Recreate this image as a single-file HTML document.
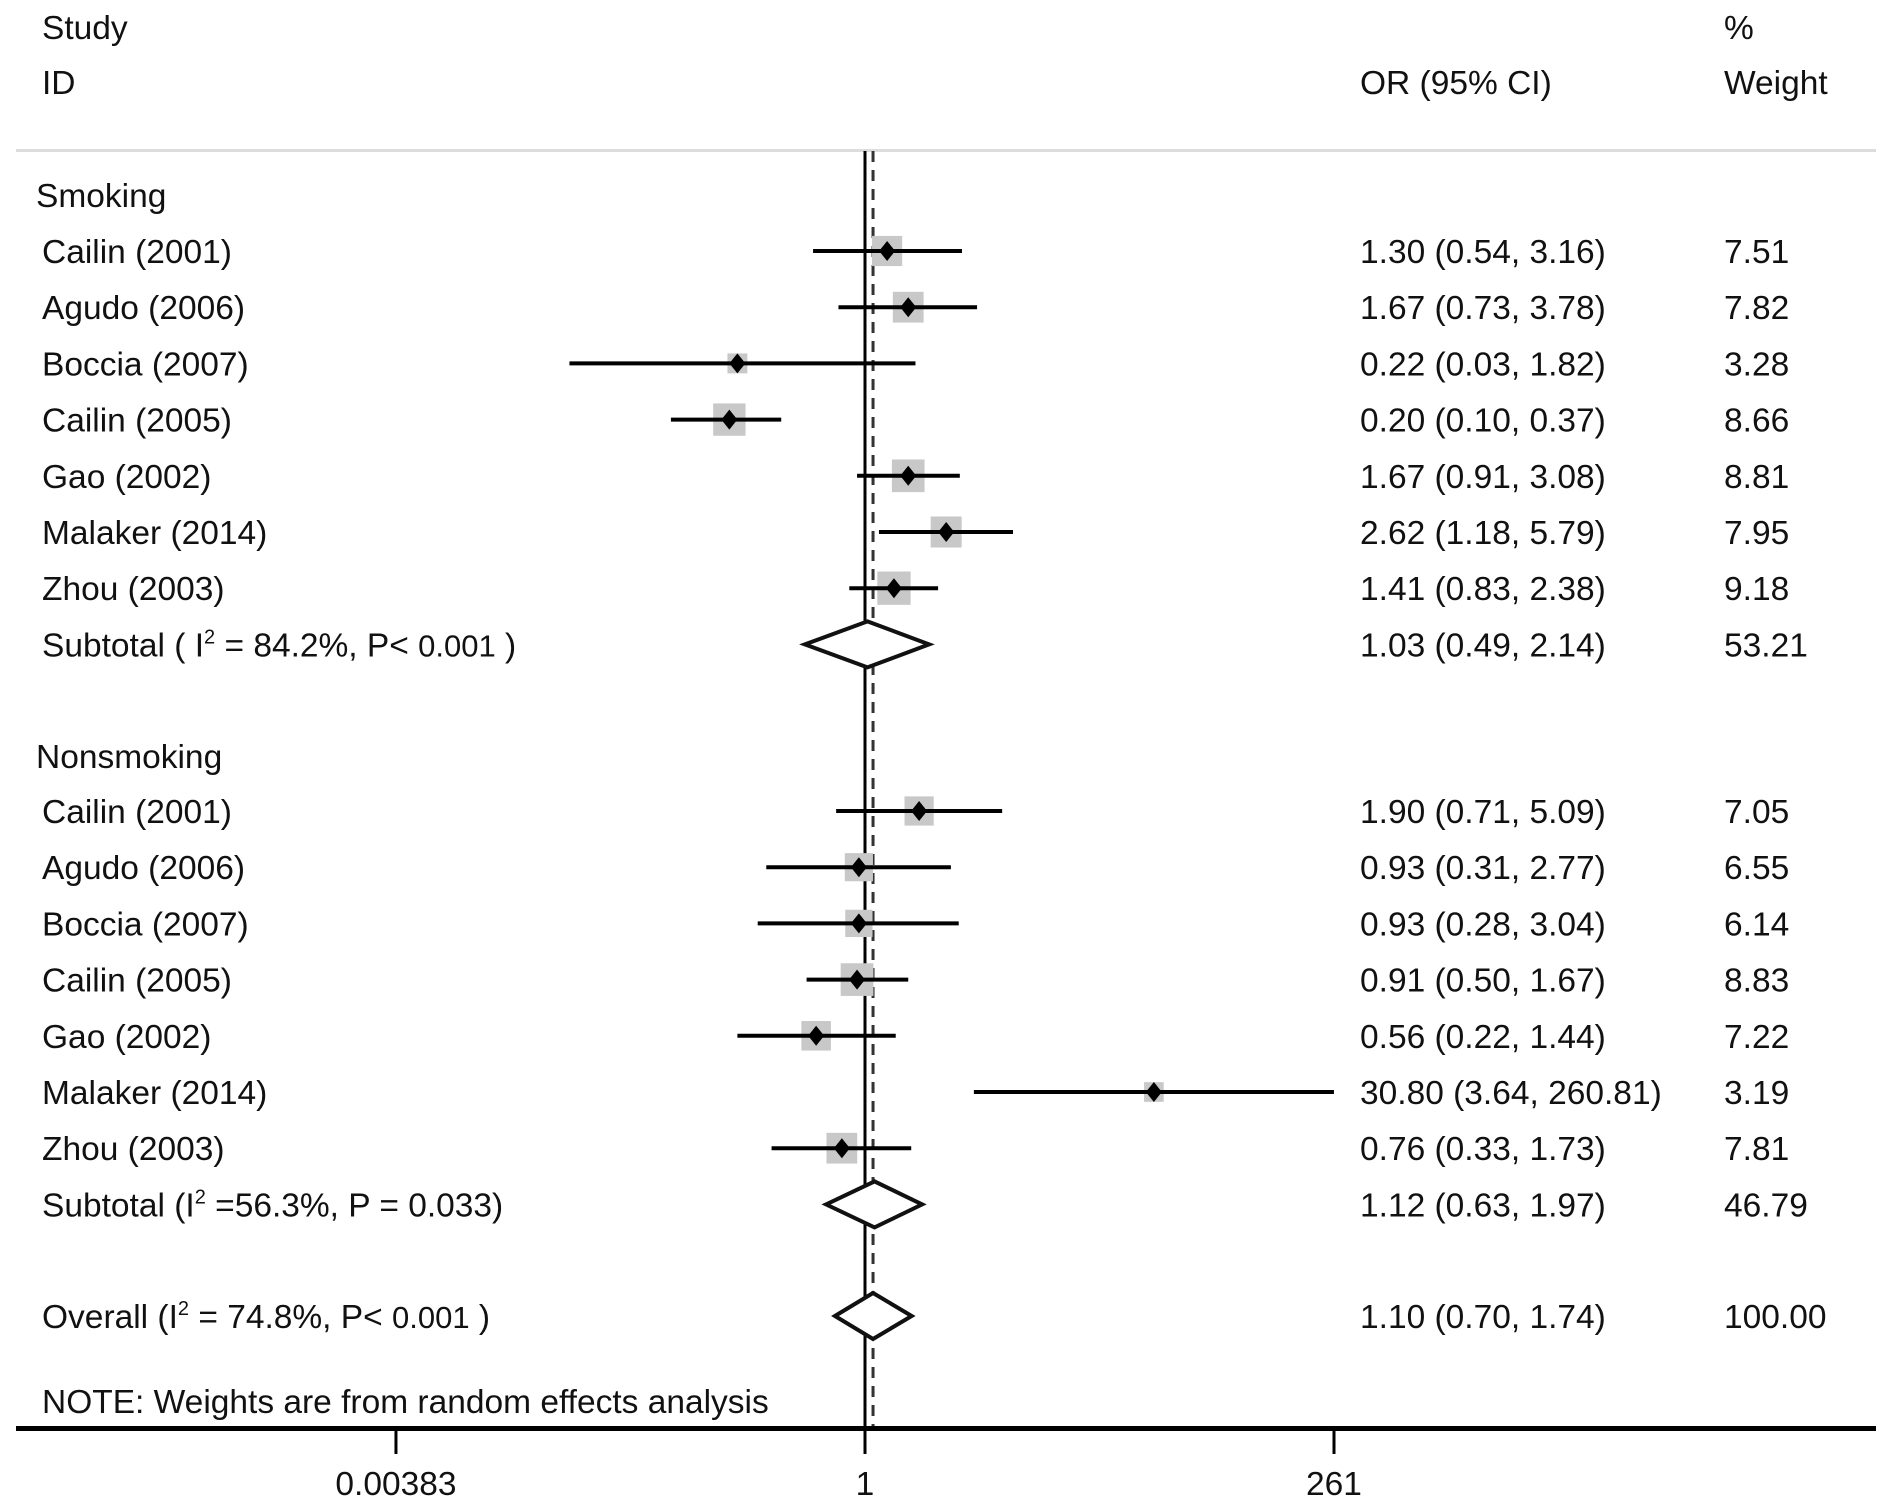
<!DOCTYPE html>
<html><head><meta charset="utf-8"><style>
html,body{margin:0;padding:0;background:#fff;}
svg{display:block;}
text{font-family:"Liberation Sans",Arial,sans-serif;font-size:33.5px;fill:#111;}
</style></head><body>
<svg id="chart" width="1890" height="1508" viewBox="0 0 1890 1508" xmlns="http://www.w3.org/2000/svg">
<g id="static">
<text x="42" y="39">Study</text>
<text x="42" y="94">ID</text>
<text x="1360" y="94">OR (95% CI)</text>
<text x="1724" y="39">%</text>
<text x="1724" y="94">Weight</text>
<rect x="16" y="149" width="1860" height="3" fill="#dcdcdc"/>
<text x="36" y="207">Smoking</text>
<text x="36" y="768">Nonsmoking</text>
<text x="42" y="1413">NOTE: Weights are from random effects analysis</text>
</g>
<g id="marks"></g>
</svg>
<script>
const studies = ["Cailin (2001)","Agudo (2006)","Boccia (2007)","Cailin (2005)","Gao (2002)","Malaker (2014)","Zhou (2003)"];
const smokOR = [1.30,1.67,0.22,0.20,1.67,2.62,1.41];
const smokLo = [0.54,0.73,0.03,0.10,0.91,1.18,0.83];
const smokHi = [3.16,3.78,1.82,0.37,3.08,5.79,2.38];
const smokW  = [7.51,7.82,3.28,8.66,8.81,7.95,9.18];
const nonOR = [1.90,0.93,0.93,0.91,0.56,30.80,0.76];
const nonLo = [0.71,0.31,0.28,0.50,0.22,3.64,0.33];
const nonHi = [5.09,2.77,3.04,1.67,1.44,260.81,1.73];
const nonW  = [7.05,6.55,6.14,8.83,7.22,3.19,7.81];
const subOR = [1.03,1.12];
const subLo = [0.49,0.63];
const subHi = [2.14,1.97];
const subW  = [53.21,46.79];
const overallOR = 1.10, overallLo = 0.70, overallHi = 1.74, overallW = 100.00;
const tickVals = [0.00383, 1, 261];
const tickLabels = ["0.00383","1","261"];

const NS="http://www.w3.org/2000/svg";
const g=document.getElementById('marks');
const X0=865, PX=469/Math.log(261);
function xs(v){return X0+Math.log(v)*PX;}
function mk(tag,attrs){const e=document.createElementNS(NS,tag);for(const k in attrs)e.setAttribute(k,attrs[k]);g.appendChild(e);return e;}
function fmt(v){return v.toFixed(2);}
const TOP=151, AXY=1428;
let l=mk('line',{x1:X0,x2:X0,y1:TOP,y2:AXY,stroke:'#000','stroke-width':3});


l=mk('line',{x1:xs(overallOR),x2:xs(overallOR),y1:TOP,y2:AXY,stroke:'#333','stroke-width':3,'stroke-dasharray':'11 8'});



function study(name,or,lo,hi,w,cy,key){
  let t=mk('text',{x:42,y:cy+12});t.textContent=name;
  
  
  const s=11*Math.sqrt(w);
  let r=mk('rect',{x:xs(or)-s/2,y:cy-s/2,width:s,height:s,fill:'#c8c8c8'});
  
  
  let c=mk('line',{x1:xs(lo),x2:Math.min(xs(hi),1334),y1:cy,y2:cy,stroke:'#000','stroke-width':4});
  
  
  const px=xs(or);
  let d=mk('polygon',{points:`${px-8},${cy} ${px},${cy-10} ${px+8},${cy} ${px},${cy+10}`,fill:'#000'});
  
  
  let o=mk('text',{x:1360,y:cy+12});o.textContent=`${fmt(or)} (${fmt(lo)}, ${fmt(hi)})`;
  
  
  let ww=mk('text',{x:1724,y:cy+12});ww.textContent=fmt(w);
  
  
}
function pooled(labelHTML,or,lo,hi,w,cy,key){
  let t=mk('text',{x:42,y:cy+12});t.innerHTML=labelHTML;
  
  
  const a=xs(lo),b=xs(hi),m=xs(or);
  let d=mk('polygon',{points:`${a},${cy} ${m},${cy-23} ${b},${cy} ${m},${cy+23}`,fill:'#fff',stroke:'#111','stroke-width':4,'stroke-linejoin':'miter'});
  
  
  let o=mk('text',{x:1360,y:cy+12});o.textContent=`${fmt(or)} (${fmt(lo)}, ${fmt(hi)})`;
  
  
  let ww=mk('text',{x:1724,y:cy+12});ww.textContent=fmt(w);
  
  
}
const ROW=56.2;
studies.forEach((n,i)=>study(n,smokOR[i],smokLo[i],smokHi[i],smokW[i],251+i*ROW,'smoking-'+i));
pooled('Subtotal  ( I<tspan dy="-13" font-size="20">2</tspan><tspan dy="13"> = 84.2%, P&lt; </tspan><tspan font-size="31">0.001</tspan> )',subOR[0],subLo[0],subHi[0],subW[0],251+7*ROW,'smoking-subtotal');
studies.forEach((n,i)=>study(n,nonOR[i],nonLo[i],nonHi[i],nonW[i],811+i*ROW,'nonsmoking-'+i));
pooled('Subtotal  (I<tspan dy="-13" font-size="20">2</tspan><tspan dy="13"> =56.3%, P = 0.033)</tspan>',subOR[1],subLo[1],subHi[1],subW[1],811+7*ROW,'nonsmoking-subtotal');
pooled('Overall  (I<tspan dy="-13" font-size="20">2</tspan><tspan dy="13"> = 74.8%, P&lt; </tspan><tspan font-size="31">0.001</tspan> )',overallOR,overallLo,overallHi,overallW,1316,'overall');
let ax=mk('rect',{x:16,y:AXY-2,width:1860,height:5,fill:'#000'});


tickVals.forEach((v,i)=>{
  let tk=mk('line',{x1:xs(v),x2:xs(v),y1:AXY,y2:AXY+26,stroke:'#000','stroke-width':3});
  
  
  let tl=mk('text',{x:xs(v),y:1495,'text-anchor':'middle'});tl.textContent=tickLabels[i];
  
  
});
</script>
</body></html>
